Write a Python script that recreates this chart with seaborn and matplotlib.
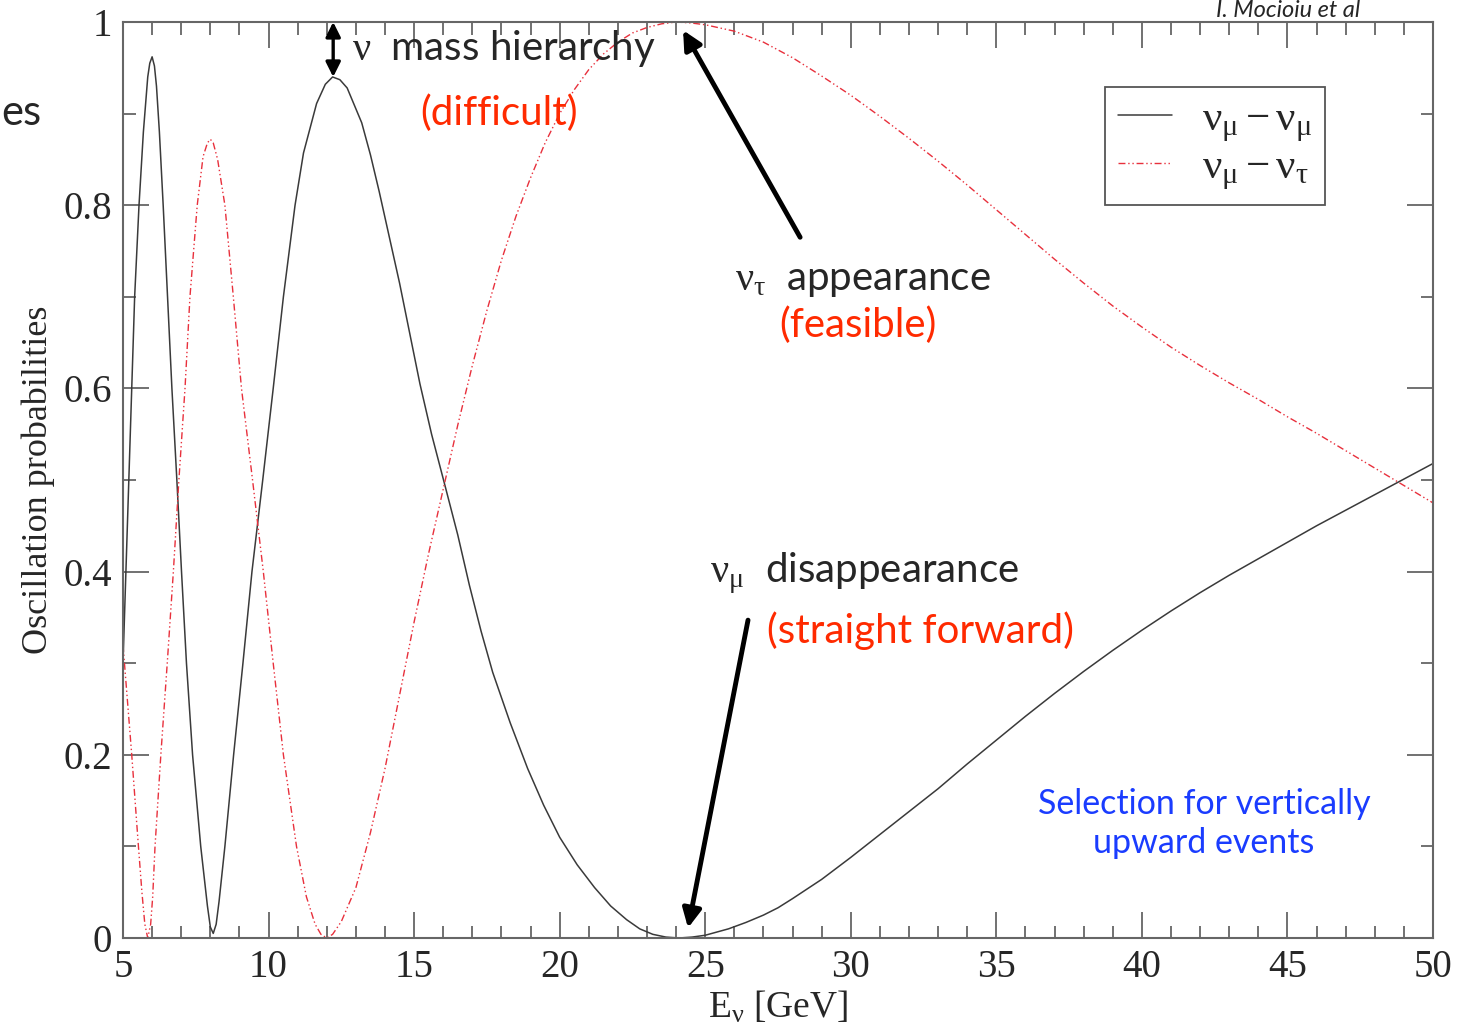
import matplotlib
matplotlib.use("Agg")
import matplotlib.pyplot as plt
import pandas as pd
import seaborn as sns
from matplotlib.lines import Line2D
from matplotlib.ticker import MultipleLocator

# values
E_MUMU = [5.0, 5.1, 5.2, 5.3, 5.4, 5.55, 5.7, 5.85, 5.92, 6.0, 6.08, 6.15, 6.25,
          6.38, 6.53, 6.68, 6.85, 7.01, 7.18, 7.39, 7.67, 7.9, 8.0, 8.1, 8.2,
          8.3, 8.5, 8.8, 9.12, 9.43, 9.8, 10.16, 10.51, 10.91, 11.2, 11.65,
          11.95, 12.2, 12.45, 12.7, 13.2, 13.5, 13.8, 14.15, 14.5, 14.85, 15.2,
          15.6, 16.06, 16.5, 16.9, 17.3, 17.7, 18.3, 18.9, 19.45, 20.0, 20.6,
          21.2, 21.75, 22.3, 22.75, 23.2, 23.65, 24.1, 24.55, 25.0, 25.8, 26.4,
          27.0, 27.5, 28.0, 29.0, 30.0, 31.0, 32.0, 33.0, 34.0, 35.0, 36.0,
          37.0, 38.0, 39.0, 40.0, 41.0, 42.0, 43.0, 44.0, 45.0, 46.0, 47.0,
          48.0, 49.0, 50.0]
P_MUMU = [0.30, 0.40, 0.50, 0.60, 0.70, 0.80, 0.88, 0.94, 0.955, 0.962, 0.952,
          0.93, 0.88, 0.80, 0.70, 0.60, 0.50, 0.40, 0.30, 0.20, 0.10, 0.035,
          0.012, 0.005, 0.015, 0.04, 0.10, 0.20, 0.30, 0.40, 0.50, 0.60, 0.70,
          0.80, 0.857, 0.911, 0.932, 0.940, 0.937, 0.928, 0.89, 0.855, 0.815,
          0.765, 0.715, 0.66, 0.605, 0.55, 0.494, 0.44, 0.385, 0.335, 0.29,
          0.235, 0.185, 0.145, 0.11, 0.08, 0.055, 0.035, 0.02, 0.01, 0.004,
          0.001, 0.0, 0.001, 0.003, 0.01, 0.017, 0.025, 0.033, 0.043, 0.064,
          0.088, 0.113, 0.138, 0.163, 0.19, 0.216, 0.242, 0.267, 0.291, 0.314,
          0.336, 0.357, 0.377, 0.396, 0.414, 0.432, 0.45, 0.467, 0.484, 0.501,
          0.518]

E_MUTAU = [5.0, 5.1, 5.3, 5.53, 5.65, 5.75, 5.85, 5.95, 6.02, 6.1, 6.3, 6.52,
           6.73, 6.92, 7.13, 7.3, 7.55, 7.75, 7.9, 8.0, 8.1, 8.25, 8.5, 8.79,
           9.07, 9.45, 9.82, 10.16, 10.51, 10.96, 11.3, 11.6, 11.8, 12.0, 12.2,
           12.5, 13.0, 13.5, 14.0, 14.5, 15.0, 15.5, 16.0, 16.5, 17.0, 17.5,
           18.0, 18.5, 19.0, 19.5, 20.0, 20.5, 21.0, 21.5, 22.0, 22.5, 23.0,
           23.5, 24.0, 24.5, 25.0, 26.0, 27.0, 28.0, 29.0, 30.0, 31.0, 32.0,
           33.0, 34.0, 35.0, 36.0, 37.0, 38.0, 39.0, 40.0, 41.0, 42.0, 43.0,
           44.0, 45.0, 46.0, 47.0, 48.0, 49.0, 50.0]
P_MUTAU = [0.32, 0.28, 0.20, 0.10, 0.05, 0.015, 0.0, 0.015, 0.045, 0.10, 0.20,
           0.30, 0.40, 0.50, 0.60, 0.70, 0.80, 0.853, 0.868, 0.872, 0.868, 0.85,
           0.80, 0.70, 0.60, 0.50, 0.40, 0.30, 0.20, 0.10, 0.045, 0.015, 0.004,
           0.0, 0.004, 0.018, 0.055, 0.115, 0.185, 0.265, 0.345, 0.42, 0.49,
           0.56, 0.625, 0.685, 0.74, 0.788, 0.83, 0.868, 0.90, 0.926, 0.948,
           0.965, 0.978, 0.988, 0.994, 0.998, 1.0, 0.999, 0.997, 0.99, 0.978,
           0.961, 0.941, 0.92, 0.897, 0.873, 0.848, 0.822, 0.795, 0.768, 0.741,
           0.715, 0.69, 0.667, 0.645, 0.625, 0.606, 0.588, 0.569, 0.551, 0.532,
           0.513, 0.494, 0.475]

X_TICKS = [5, 10, 15, 20, 25, 30, 35, 40, 45, 50]
Y_TICKS = [0, 0.2, 0.4, 0.6, 0.8, 1]
Y_TICK_LABELS = ["0", "0.2", "0.4", "0.6", "0.8", "1"]

BLACK = "#3a3a3a"
RED = "#e8303c"
TXT_RED = "#ff2a00"
BLUE = "#1a3cff"
DASH = (0, (5, 2, 1, 2, 1, 2))

sns.set_style("ticks")
plt.rcParams["font.family"] = ["Liberation Serif", "DejaVu Serif"]
plt.rcParams["mathtext.fontset"] = "custom"
plt.rcParams["mathtext.rm"] = "Liberation Serif"
plt.rcParams["mathtext.it"] = "Liberation Serif:italic"
plt.rcParams["mathtext.bf"] = "Liberation Serif:bold"

df_mumu = pd.DataFrame({"E": E_MUMU, "P": P_MUMU})
df_mutau = pd.DataFrame({"E": E_MUTAU, "P": P_MUTAU})

fig = plt.figure(figsize=(14.72, 10.27), dpi=100)
ax = fig.add_axes([123 / 1472, 1 - 938 / 1027, 1310 / 1472, 916 / 1027])

sns.lineplot(data=df_mumu, x="E", y="P", ax=ax, color=BLACK, lw=1.1,
             estimator=None, sort=False)
sns.lineplot(data=df_mutau, x="E", y="P", ax=ax, color=RED, lw=1.0,
             linestyle=DASH, estimator=None, sort=False)

ax.set_xlim(5, 50)
ax.set_ylim(0, 1)
ax.set_xticks(X_TICKS)
ax.set_yticks(Y_TICKS)
ax.set_yticklabels(Y_TICK_LABELS)
ax.xaxis.set_minor_locator(MultipleLocator(1))
ax.yaxis.set_minor_locator(MultipleLocator(0.1))
ax.tick_params(which="both", direction="in", top=True, right=True,
               color="#666666", width=1.3, labelsize=28, pad=8)
ax.tick_params(which="major", length=19)
ax.tick_params(which="minor", length=9)
for s in ax.spines.values():
    s.set_color("#666666")
    s.set_linewidth(1.5)

ax.set_xlabel(r"E$_\mathrm{ν}$ [GeV]", fontsize=27, labelpad=2)
ax.set_ylabel("Oscillation probabilities", fontsize=26, labelpad=6)

handles = [Line2D([], [], color=BLACK, lw=1.1),
           Line2D([], [], color=RED, lw=1.0, linestyle=DASH)]
labels = [r"$\mathrm{ν_μ - ν_μ}$", r"$\mathrm{ν_μ - ν_τ}$"]
leg = ax.legend(handles, labels, loc="upper left", bbox_to_anchor=(0.7496, 0.929),
                borderaxespad=0, fontsize=31, handlelength=1.25, handletextpad=0.7,
                fancybox=False, framealpha=1, borderpad=0.3, labelspacing=0.1)
leg.get_frame().set_edgecolor("#555555")
leg.get_frame().set_linewidth(1.3)

sans = ["Lato", "DejaVu Sans"]

# annotations
ax.annotate("", xy=(12.22, 0.94), xytext=(12.22, 1.0),
            arrowprops=dict(arrowstyle="<|-|>", color="black", lw=2.4,
                            mutation_scale=22, shrinkA=0, shrinkB=0))
ax.text(12.87, 0.958, r"$\mathrm{ν}$  mass hierarchy", fontsize=29, family=sans,
        ha="left", va="baseline")
ax.text(17.92, 0.90, "(difficult)", fontsize=29, family=sans, color=TXT_RED,
        ha="center", va="center")

ax.annotate("", xy=(24.24, 0.991), xytext=(28.26, 0.765),
            arrowprops=dict(arrowstyle="-|>", color="black", lw=3.5,
                            mutation_scale=28, shrinkA=0, shrinkB=0))
ax.text(26.02, 0.707, r"$\mathrm{ν_τ}$  appearance", fontsize=29, family=sans,
        ha="left", va="baseline")
ax.text(30.25, 0.669, "(feasible)", fontsize=29, family=sans, color=TXT_RED,
        ha="center", va="center")

ax.annotate("", xy=(24.41, 0.011), xytext=(26.47, 0.347),
            arrowprops=dict(arrowstyle="-|>", color="black", lw=3.5,
                            mutation_scale=28, shrinkA=0, shrinkB=0))
ax.text(25.16, 0.388, r"$\mathrm{ν_μ}$  disappearance", fontsize=29, family=sans,
        ha="left", va="baseline")
ax.text(32.38, 0.336, "(straight forward)", fontsize=29, family=sans,
        color=TXT_RED, ha="center", va="center")

ax.text(42.13, 0.125, "Selection for vertically\nupward events", fontsize=24.5,
        family=sans, color=BLUE, ha="center", va="center", linespacing=1.25)

fig.text(1 / 1472, 1 - 113 / 1027, "es", fontsize=30, family=sans,
         ha="left", va="center")
fig.text(1288 / 1472, 1 - 17 / 1027, "I. Mocioiu et al", fontsize=17,
         family=sans, style="italic", ha="center", va="baseline")

fig.savefig("out.png", dpi=100)
